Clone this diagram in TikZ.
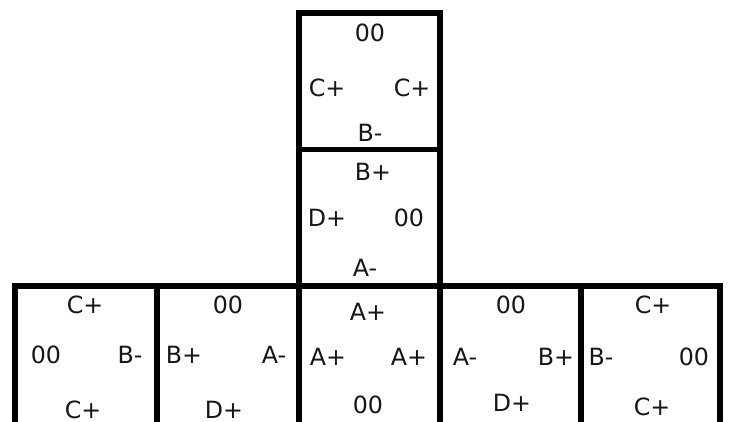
\documentclass[tikz,border=0pt]{standalone}
\usepackage{fontspec}
\setmainfont{DejaVu Sans}
\usepackage{xcolor}
\definecolor{inkc}{HTML}{161616}

\tikzset{
  tileline/.style={line width=0.11cm, line join=miter, draw=black},
  sign/.style={font=\fontsize{13.5}{15}\selectfont, text=inkc, inner sep=0pt},
}

\begin{document}
\begin{tikzpicture}[x=0.02cm,y=-0.02cm]
  \useasboundingbox (0,0) rectangle (731,422);
  \fill[white] (0,0) rectangle (731,422);

  % ==========================================================
  %                     TILES
  % ==========================================================
  \draw[tileline] (299,13) rectangle (440,149.5);
  \draw[tileline] (299,149.5) rectangle (440,286);
  \foreach \xa/\xb in {15/157, 157/299, 299/440, 440/581, 581/720}
    \draw[tileline] (\xa,286) rectangle (\xb,430);

  % ==========================================================
  %                     LABELS (column of two)
  % ==========================================================
  \node[sign] (upTop)    at (370,33)  {00};
  \node[sign] (upLeft)   at (327,88)  {C+};
  \node[sign] (upRight)  at (412,88)  {C+};
  \node[sign] (upBot)    at (370,133) {B-};

  \node[sign] (midTop)   at (373,172) {B+};
  \node[sign] (midLeft)  at (327,218) {D+};
  \node[sign] (midRight) at (409,218) {00};
  \node[sign] (midBot)   at (365,268) {A-};

  % ==========================================================
  %                     LABELS (bottom row)
  % ==========================================================
  \node[sign] (aTop)   at (85,305)  {C+};
  \node[sign] (aLeft)  at (46,355)  {00};
  \node[sign] (aRight) at (130,355) {B-};
  \node[sign] (aBot)   at (83,410)  {C+};

  \node[sign] (bTop)   at (228,305) {00};
  \node[sign] (bLeft)  at (184,355) {B+};
  \node[sign] (bRight) at (274,355) {A-};
  \node[sign] (bBot)   at (224,410) {D+};

  \node[sign] (cTop)   at (368,312) {A+};
  \node[sign] (cLeft)  at (328,357) {A+};
  \node[sign] (cRight) at (409,357) {A+};
  \node[sign] (cBot)   at (368,405) {00};

  \node[sign] (dTop)   at (511,305) {00};
  \node[sign] (dLeft)  at (465,357) {A-};
  \node[sign] (dRight) at (556,357) {B+};
  \node[sign] (dBot)   at (512,403) {D+};

  \node[sign] (eTop)   at (653,305) {C+};
  \node[sign] (eLeft)  at (601,357) {B-};
  \node[sign] (eRight) at (694,357) {00};
  \node[sign] (eBot)   at (652,407) {C+};
\end{tikzpicture}
\end{document}
